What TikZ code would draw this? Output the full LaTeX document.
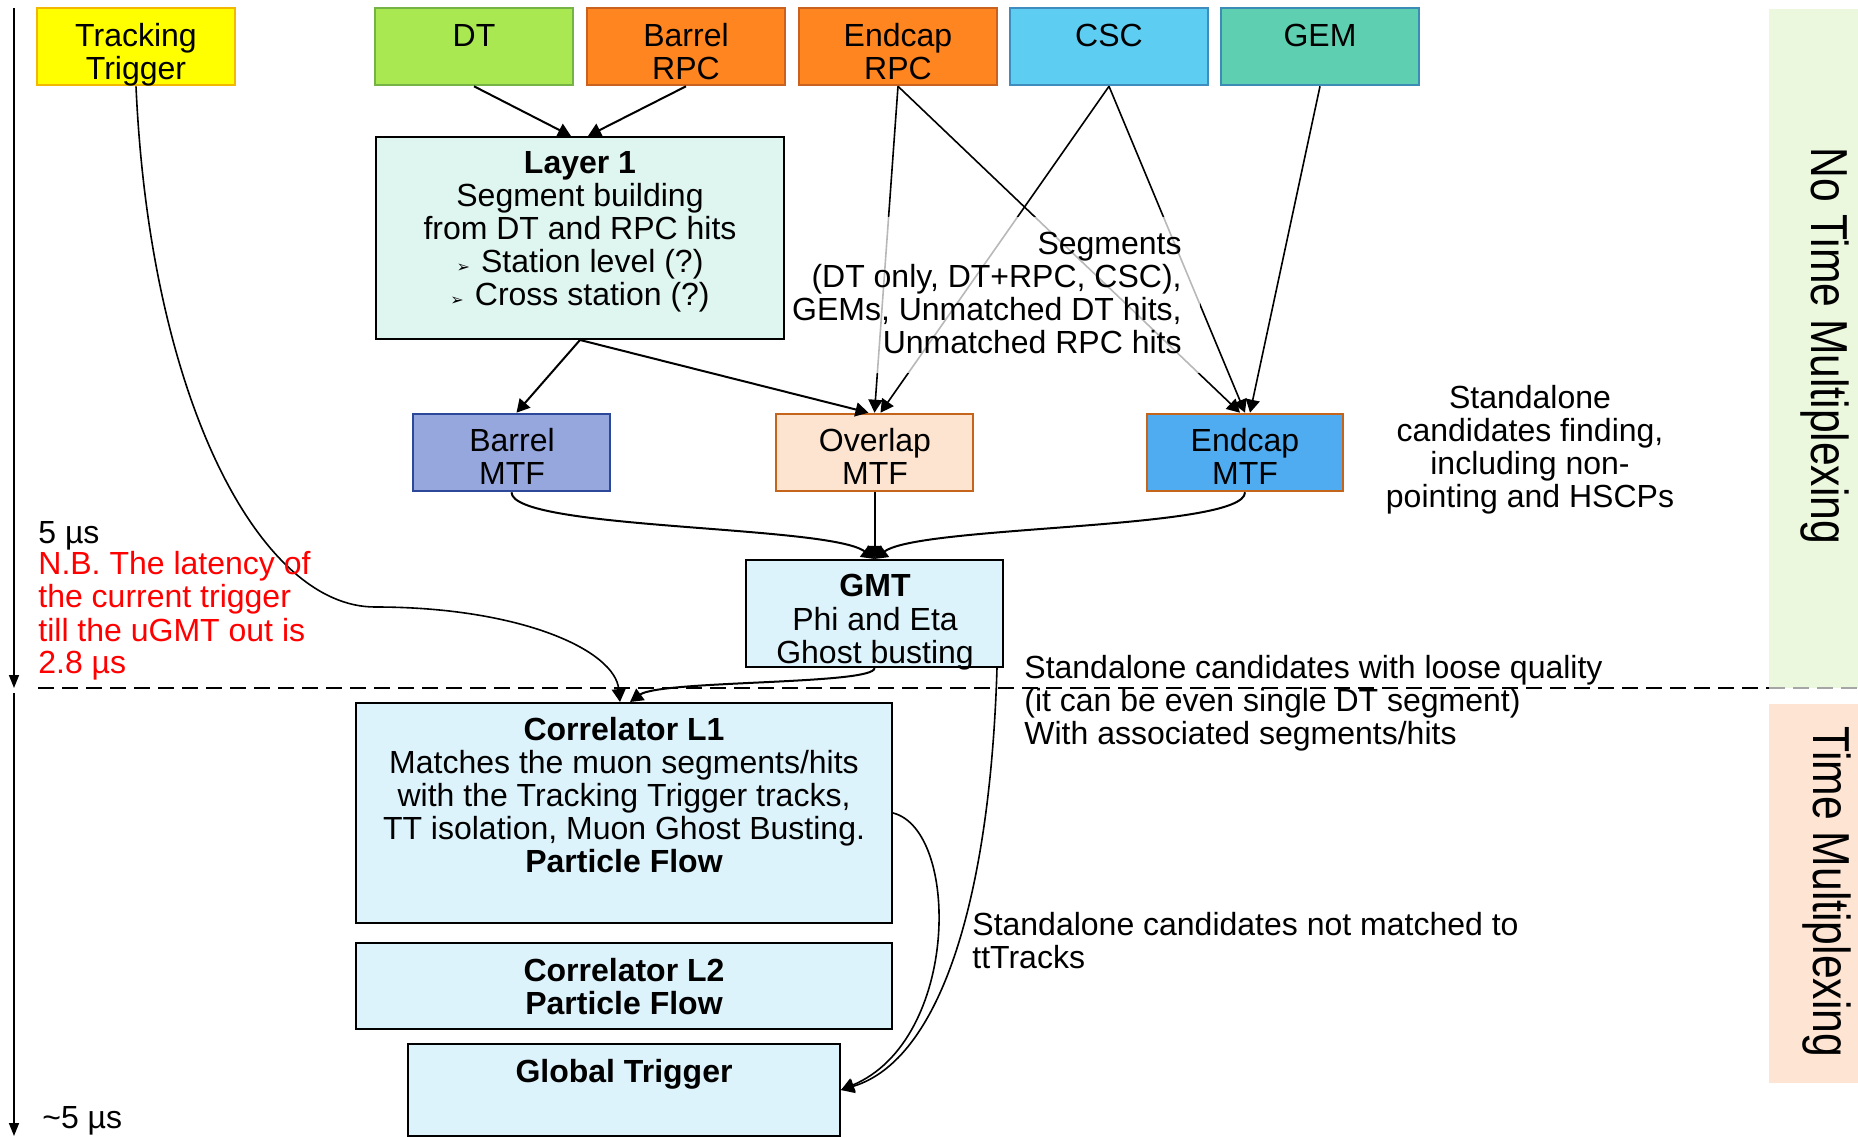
\documentclass[tikz,border=0pt]{standalone}
\usepackage{fontspec}
\usepackage{graphicx}
\setmainfont{Liberation Sans}
\newfontfamily\bulletfont{DejaVu Sans}
\usetikzlibrary{arrows.meta,fit}

\definecolor{ttFill}{HTML}{FFFF00}
\definecolor{ttLine}{HTML}{F2B800}
\definecolor{dtFill}{HTML}{A9E850}
\definecolor{dtLine}{HTML}{76B346}
\definecolor{rpcFill}{HTML}{FF8520}
\definecolor{rpcLine}{HTML}{C8621E}
\definecolor{cscFill}{HTML}{5ECDF2}
\definecolor{cscLine}{HTML}{3F8DBF}
\definecolor{gemFill}{HTML}{5ECFB1}
\definecolor{gemLine}{HTML}{3C8DB5}
\definecolor{layerFill}{HTML}{DFF5EF}
\definecolor{bmtfFill}{HTML}{96A7DE}
\definecolor{bmtfLine}{HTML}{2E4899}
\definecolor{omtfFill}{HTML}{FDE4D0}
\definecolor{emtfFill}{HTML}{50ACF0}
\definecolor{mtfLine}{HTML}{C5651C}
\definecolor{procFill}{HTML}{DDF3FB}
\definecolor{noTmFill}{HTML}{ECF8DE}
\definecolor{tmFill}{HTML}{FDE4D3}
\definecolor{nbRed}{HTML}{FF0000}

\newcommand{\bul}{{\bulletfont\fontsize{8}{8}\selectfont ➢}\hspace{0.35em}}

\begin{document}
\begin{tikzpicture}[x=0.5pt,y=-0.5pt,
  font=\fontsize{16}{16.5}\selectfont,
  box/.style={draw, line width=1pt, inner sep=0pt},
  src/.style={box, line width=1.3pt},
  txt/.style={inner sep=0pt, anchor=base, align=center},
  tip/.style={-{Triangle[length=6.5pt,width=7pt]}},
  arr/.style={tip, line width=1pt},
  thinarr/.style={tip, line width=0.8pt},
  band/.style={draw=none, inner sep=0pt},
  vtext/.style={rotate=-90, anchor=base, inner sep=0pt, font=\fontsize{26}{28}\selectfont}
]
\useasboundingbox (0,0) rectangle (1858,1138);

% multiplexing bands on the right
\node[band, fill=noTmFill, fit={(1769,9) (1858,688)}] (notm) {};
\node[band, fill=tmFill, fit={(1769,704) (1858,1083)}] (tm) {};
\node[vtext] (notmT) at (1811,346) {\scalebox{0.82}[1]{No Time Multiplexing}};
\node[vtext] (tmT) at (1813,892) {\scalebox{0.82}[1]{Time Multiplexing}};

% time axis
\coordinate (t0) at (14,8);
\coordinate (t1) at (14,688);
\coordinate (t2) at (14,693);
\coordinate (t3) at (14,1136);
\draw[-{Triangle[length=6.5pt,width=5pt]}, line width=0.8pt] (t0) -- (t1);
\draw[-{Triangle[length=6.5pt,width=5pt]}, line width=0.8pt] (t2) -- (t3);

% boundary between the two stages
\coordinate (d0) at (38,688);
\coordinate (d1) at (1769,688);
\coordinate (d2) at (1858,688);
\draw[line width=0.9pt, dash pattern=on 8pt off 4pt] (d0) -- (d1);
\draw[gray!70, line width=0.9pt, dash pattern=on 8pt off 4pt] (d1) -- (d2);

% detector inputs
\node[src, fill=ttFill, draw=ttLine, fit={(37,8) (235,85)}] (tt) {};
\node[src, fill=dtFill, draw=dtLine, fit={(375,8) (573,85)}] (dt) {};
\node[src, fill=rpcFill, draw=rpcLine, fit={(587,8) (785,85)}] (brpc) {};
\node[src, fill=rpcFill, draw=rpcLine, fit={(799,8) (997,85)}] (erpc) {};
\node[src, fill=cscFill, draw=cscLine, fit={(1010,8) (1208,85)}] (csc) {};
\node[src, fill=gemFill, draw=gemLine, fit={(1221,8) (1419,85)}] (gem) {};

% processing stages
\node[box, fill=layerFill, fit={(376,137) (784,339)}] (l1) {};
\node[src, fill=bmtfFill, draw=bmtfLine, fit={(413,414) (610,491)}] (bmtf) {};
\node[src, fill=omtfFill, draw=mtfLine, fit={(776,414) (973,491)}] (omtf) {};
\node[src, fill=emtfFill, draw=mtfLine, fit={(1147,414) (1343,491)}] (emtf) {};
\node[box, fill=procFill, fit={(746,560) (1003,667)}] (gmt) {};
\node[box, fill=procFill, fit={(356,703) (892,923)}] (c1) {};
\node[box, fill=procFill, fit={(356,943) (892,1029)}] (c2) {};
\node[box, fill=procFill, fit={(408,1044) (840,1136)}] (gt) {};

% connections
\draw[arr] (dt.south) -- ([xshift=-4.5pt]l1.north);
\draw[arr] (brpc.south) -- ([xshift=4pt]l1.north);
\draw[arr] (l1.south) -- ([xshift=2.5pt]bmtf.north);
\draw[arr] (l1.south) -- ([xshift=-3pt]omtf.north);
\draw[arr, line width=0.8pt] (erpc.south) -- (omtf.north);
\draw[arr, line width=0.8pt] (csc.south) -- ([xshift=3pt]omtf.north);
\draw[arr, line width=0.8pt] (erpc.south) -- ([xshift=-2.5pt]emtf.north);
\draw[arr, line width=0.8pt] (csc.south) -- (emtf.north);
\draw[arr, line width=0.8pt] (gem.south) -- ([xshift=2.5pt]emtf.north);

\draw[thinarr] (tt.south) .. controls (150,400) and (260,607) .. (375,607)
  .. controls (520,607) and (615,650) .. ([xshift=-2pt]c1.north);
\draw[arr] (bmtf.south) .. controls (512,530) and (830,525) .. (gmt.north);
\draw[arr] (omtf.south) -- (gmt.north);
\draw[arr] (emtf.south) .. controls (1245,530) and (920,525) .. (gmt.north);
\draw[arr] (gmt.south) .. controls (875,685) and (660,680) .. ([xshift=3pt]c1.north);
\draw[thinarr] ([xshift=-3.5pt]gmt.south east) .. controls (990,900) and (940,1060) .. (gt.east);
\draw[thinarr] (c1.east) .. controls (960,830) and (960,1040) .. (gt.east);

% veil behind the segment list
\fill[white, opacity=0.72] (788,217) rectangle (1200,373);

% texts (each placed at the baseline of its last line)
\node[txt] (ttT) at (136,80) {Tracking\\Trigger};
\node[txt] (dtT) at (474,47) {DT};
\node[txt] (brpcT) at (686,80) {Barrel\\RPC};
\node[txt] (erpcT) at (898,80) {Endcap\\RPC};
\node[txt] (cscT) at (1109,47) {CSC};
\node[txt] (gemT) at (1320,47) {GEM};
\node[txt] (l1T) at (580,306) {\textbf{Layer 1}\\Segment building\\from DT and RPC hits\\\bul Station level (?)\\\bul Cross station (?)};
\node[txt] (bmtfT) at (512,485) {Barrel\\MTF};
\node[txt] (omtfT) at (875,485) {Overlap\\MTF};
\node[txt] (emtfT) at (1245,485) {Endcap\\MTF};
\node[txt] (gmtT) at (875,663) {\textbf{GMT}\\Phi and Eta\\Ghost busting};
\node[txt] (c1T) at (624,872) {\textbf{Correlator L1}\\Matches the muon segments/hits\\with the Tracking Trigger tracks,\\TT isolation, Muon Ghost Busting.\\\textbf{Particle Flow}};
\node[txt] (c2T) at (624,1014) {\textbf{Correlator L2}\\\textbf{Particle Flow}};
\node[txt] (gtT) at (624,1082) {\textbf{Global Trigger}};

\node[txt, align=right, anchor=base east] (segT) at (1182,354) {Segments\\(DT only, DT+RPC, CSC),\\GEMs, Unmatched DT hits,\\Unmatched RPC hits};
\node[txt] (findT) at (1530,508) {Standalone\\candidates finding,\\including non-\\pointing and HSCPs};
\node[txt, anchor=base west, align=left] (looseT) at (1024,744) {Standalone candidates with loose quality\\(it can be even single DT segment)\\With associated segments/hits};
\node[txt, anchor=base west, align=left] (unmT) at (972,968) {Standalone candidates not matched to\\ttTracks};

\node[txt, anchor=base west, align=left] (t5) at (38,544) {5 µs};
\node[txt, anchor=base west, align=left, text=nbRed] (nb) at (38,674) {N.B. The latency of\\the current trigger\\till the uGMT out is\\2.8 µs};
\node[txt, anchor=base west] (t5b) at (42,1128) {\textasciitilde5 µs};
\end{tikzpicture}
\end{document}
